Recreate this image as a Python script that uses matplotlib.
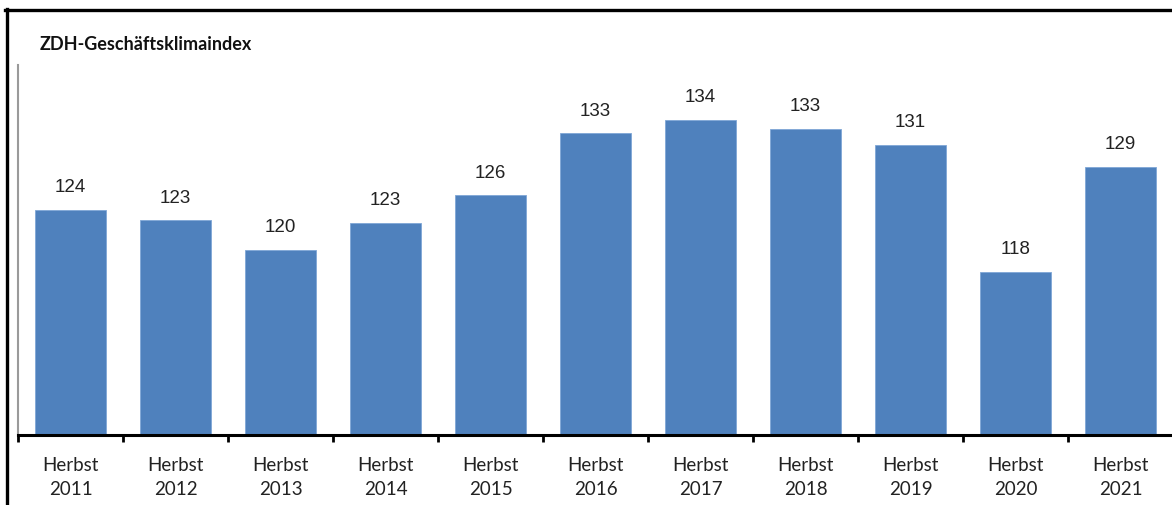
import matplotlib
matplotlib.use("Agg")
import matplotlib.pyplot as plt
from matplotlib.lines import Line2D
import numpy as np

categories = ["Herbst\n2011", "Herbst\n2012", "Herbst\n2013", "Herbst\n2014", "Herbst\n2015",
              "Herbst\n2016", "Herbst\n2017", "Herbst\n2018", "Herbst\n2019", "Herbst\n2020",
              "Herbst\n2021"]
values = [124.3, 123.2, 120.0, 122.9, 125.9, 132.6, 134.1, 133.1, 131.4, 117.6, 129.0]
title = "ZDH-Geschäftsklimaindex"

W, H = 1172, 505
fig = plt.figure(figsize=(W / 100, H / 100), dpi=100)
fig.patch.set_facecolor("white")

ax = fig.add_axes([18 / W, 70 / H, 1155 / W, 370 / H])
x = np.arange(len(values))
bars = ax.bar(x, values, width=0.667, bottom=0, color="#4F81BD", edgecolor="#7FA6D6", linewidth=0.6, zorder=2)
ax.set_ylim(100, 140)
ax.set_xlim(-0.5, len(values) - 0.5)

for xi, v in zip(x, values):
    ax.annotate(f"{v:.0f}", (xi, v), xytext=(0, 10), textcoords="offset points",
                ha="center", va="bottom", fontsize=13.5, color="#222222",
                family=["Liberation Sans", "DejaVu Sans"])

ax.set_yticks([])
ax.set_xticks(np.arange(-0.5, len(values), 1.0))
ax.set_xticklabels([])
ax.set_xticks(x, minor=True)
ax.set_xticklabels(categories, minor=True, fontsize=13.5, color="#222222",
                   family=["Lato", "DejaVu Sans"], linespacing=1.5)
ax.tick_params(axis="x", which="major", direction="out", length=5, width=2, color="black")
ax.tick_params(axis="x", which="minor", length=0, pad=16)

for s in ["top", "right"]:
    ax.spines[s].set_visible(False)
ax.spines["bottom"].set_color("black")
ax.spines["bottom"].set_linewidth(2.2)
ax.spines["left"].set_color("#9a9a9a")
ax.spines["left"].set_linewidth(1.5)

fig.text(40 / W, 1 - 45 / H, title, fontsize=13, fontweight="bold", color="#111111",
         va="center", ha="left", family=["Lato", "DejaVu Sans"])

# outer frame lines (top and left)
fig.add_artist(Line2D([5 / W, 1.0], [1 - 10 / H, 1 - 10 / H], transform=fig.transFigure,
                      color="black", linewidth=2.4))
fig.add_artist(Line2D([6.5 / W, 6.5 / W], [1 - 9 / H, 0.0], transform=fig.transFigure,
                      color="black", linewidth=2.4))

fig.savefig("out.png", dpi=100)
